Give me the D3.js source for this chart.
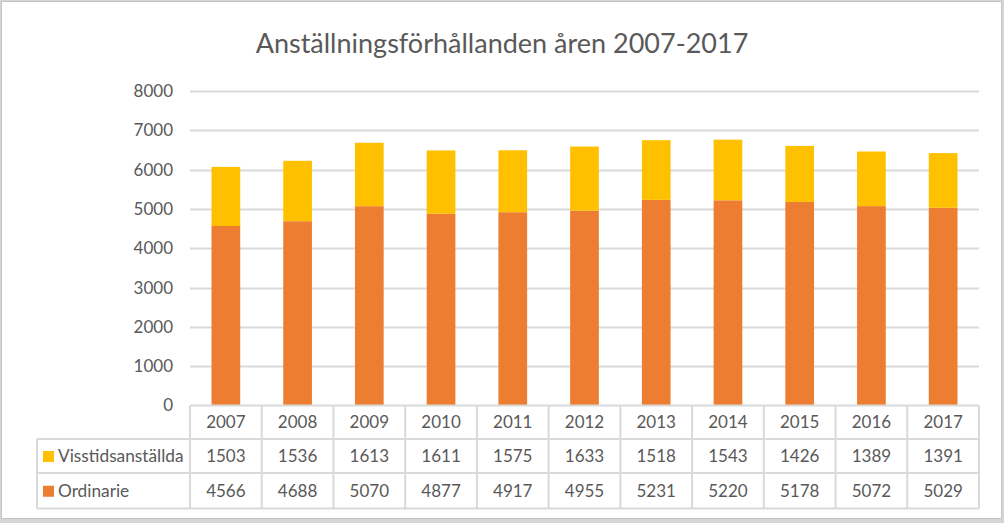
<!DOCTYPE html>
<head>
  <meta charset="utf-8">
  <script src="https://d3js.org/d3.v7.min.js"></script>
  <style>
    body { margin:0; padding:0; background:#d6d6d6; }
    svg text { font-family: Lato, "Open Sans", sans-serif; fill:#595959; }
  </style>
</head>
<body>
  <script>
    var years = ["2007","2008","2009","2010","2011","2012","2013","2014","2015","2016","2017"];
    var visstid = [1503,1536,1613,1611,1575,1633,1518,1543,1426,1389,1391];
    var ordinarie = [4566,4688,5070,4877,4917,4955,5231,5220,5178,5072,5029];
    var seriesNames = ["Visstidsanställda", "Ordinarie"];
    var yTicks = [0,1000,2000,3000,4000,5000,6000,7000,8000];
    var title = "Anställningsförhållanden åren 2007-2017";

    var width = 1004, height = 523;
    var colors = {"Visstidsanställda": "#FFC000", "Ordinarie": "#ED7D31"};
    var grid = "#d9d9d9";

    var svg = d3.select("body").append("svg")
      .attr("width", width).attr("height", height);

    // chart area frame
    svg.append("rect")
      .attr("x", 1.5).attr("y", 1.5).attr("width", 1000).attr("height", 517)
      .attr("fill", "#fff").attr("stroke", "#c4c4c4").attr("stroke-width", 1);

    svg.append("text")
      .attr("x", 502).attr("y", 53)
      .attr("text-anchor", "middle")
      .style("font-size", "27px")
      .text(title);

    var plot = {left:190, right:979, top:91, bottom:405.5};
    var x = d3.scaleBand().domain(years).range([plot.left, plot.right]).paddingInner(0.6).paddingOuter(0.3);
    var band = d3.scaleBand().domain(years).range([plot.left, plot.right]);
    var y = d3.scaleLinear().domain([0, 8000]).range([plot.bottom, plot.top]);

    // gridlines
    svg.append("g").selectAll("line")
      .data(yTicks.slice(1))
      .enter().append("line")
      .attr("x1", plot.left).attr("x2", plot.right)
      .attr("y1", function(d){ return Math.round(y(d)) + 0.5; })
      .attr("y2", function(d){ return Math.round(y(d)) + 0.5; })
      .attr("stroke", grid).attr("stroke-width", 2);

    // y axis labels
    svg.append("g").selectAll("text")
      .data(yTicks)
      .enter().append("text")
      .attr("x", 173).attr("y", function(d){ return y(d); })
      .attr("dy", "0.35em")
      .attr("text-anchor", "end")
      .style("font-size", "17px")
      .text(function(d){ return d; });

    // stacked bars
    var rows = years.map(function(yr, i){
      return {year: yr, "Ordinarie": ordinarie[i], "Visstidsanställda": visstid[i]};
    });
    var stack = d3.stack().keys(["Ordinarie", "Visstidsanställda"])(rows);

    svg.append("g").selectAll("g")
      .data(stack)
      .enter().append("g")
      .attr("fill", function(d){ return colors[d.key]; })
      .selectAll("rect")
      .data(function(d){ return d; })
      .enter().append("rect")
      .attr("x", function(d){ return x(d.data.year); })
      .attr("width", x.bandwidth())
      .attr("y", function(d){ return y(d[1]); })
      .attr("height", function(d){ return y(d[0]) - y(d[1]); });

    // data table
    var rowTop = [405.5, 439, 473, 508.5];
    var tableLeft = 37;
    var t = svg.append("g").attr("stroke", grid).attr("stroke-width", 2).attr("fill", "none");
    // horizontal lines
    t.append("line").attr("x1", plot.left).attr("x2", plot.right).attr("y1", rowTop[0]).attr("y2", rowTop[0]);
    [1,2,3].forEach(function(k){
      t.append("line").attr("x1", tableLeft).attr("x2", plot.right).attr("y1", rowTop[k]).attr("y2", rowTop[k]);
    });
    // vertical lines
    t.append("line").attr("x1", tableLeft).attr("x2", tableLeft).attr("y1", rowTop[1]).attr("y2", rowTop[3]);
    years.forEach(function(yr){
      var xx = band(yr);
      t.append("line").attr("x1", xx).attr("x2", xx).attr("y1", rowTop[0]).attr("y2", rowTop[3]);
    });
    t.append("line").attr("x1", plot.right).attr("x2", plot.right).attr("y1", rowTop[0]).attr("y2", rowTop[3]);

    function rowCenter(k){ return (rowTop[k] + rowTop[k+1]) / 2; }

    var cells = svg.append("g").style("font-size", "17px").attr("text-anchor", "middle");
    years.forEach(function(yr, i){
      var cx = band(yr) + band.bandwidth() / 2;
      cells.append("text").attr("x", cx).attr("y", rowCenter(0)).attr("dy", "0.35em").text(yr);
      cells.append("text").attr("x", cx).attr("y", rowCenter(1)).attr("dy", "0.35em").text(visstid[i]);
      cells.append("text").attr("x", cx).attr("y", rowCenter(2)).attr("dy", "0.35em").text(ordinarie[i]);
    });

    // legend keys in table
    seriesNames.forEach(function(name, k){
      var cy = rowCenter(k + 1);
      svg.append("rect").attr("x", 43).attr("y", cy - 5).attr("width", 11).attr("height", 11)
        .attr("fill", colors[name]);
      svg.append("text").attr("x", 58).attr("y", cy).attr("dy", "0.35em")
        .style("font-size", "17.3px").text(name);
    });
  </script>
</body>
